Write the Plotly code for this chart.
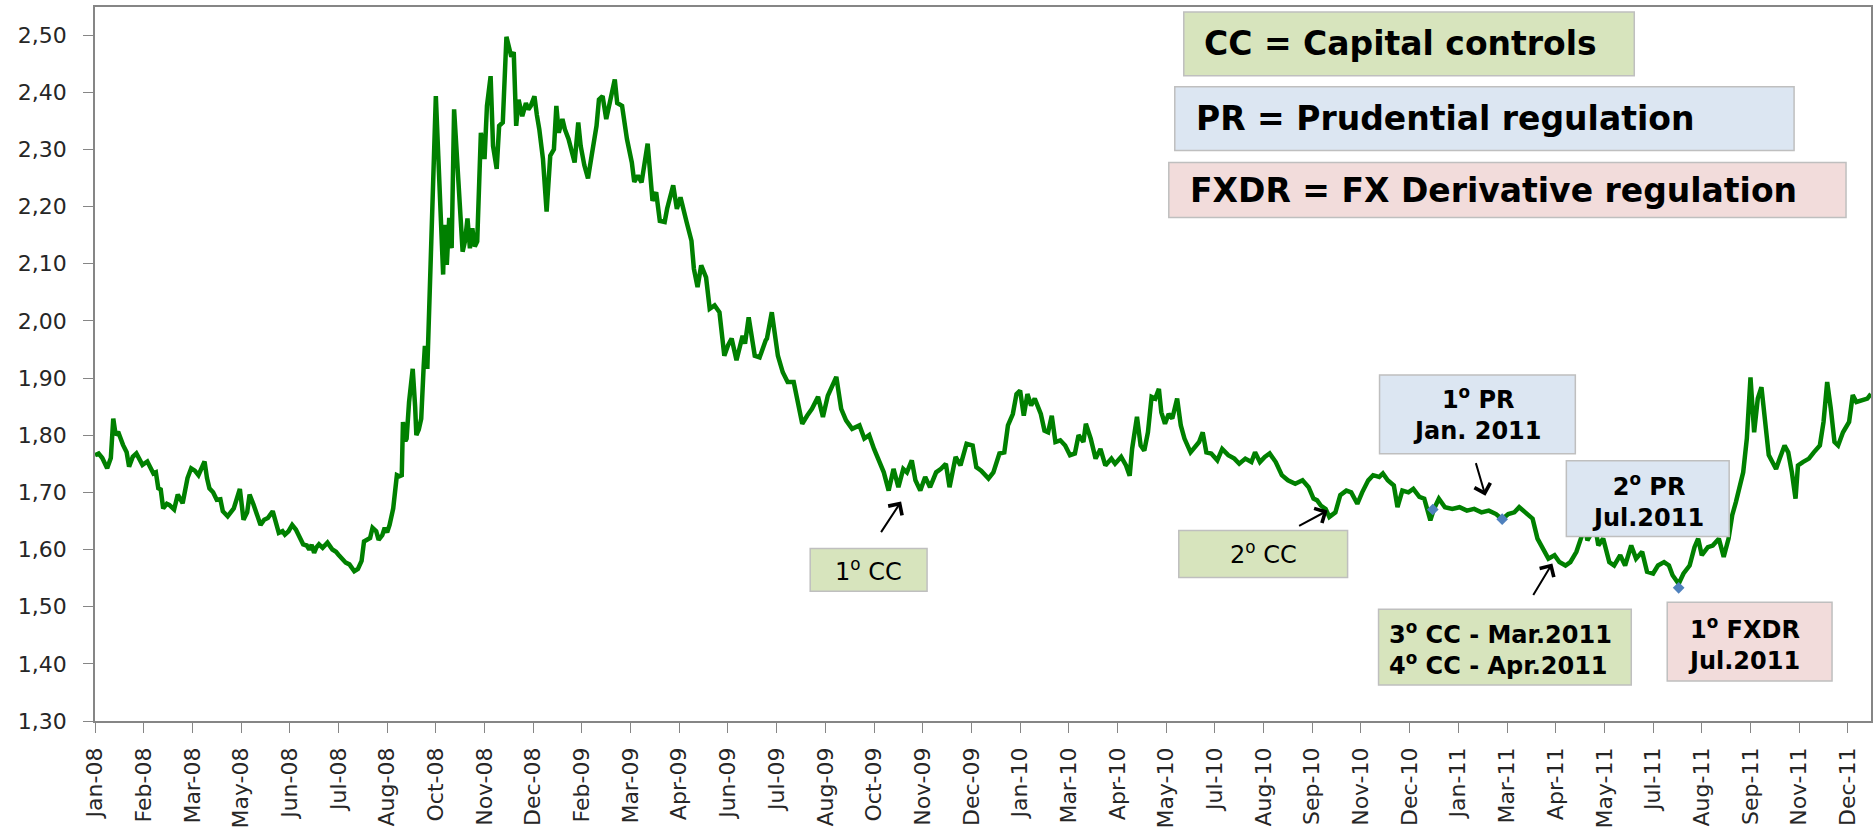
import pandas as pd
import plotly.graph_objects as go

# ---------------- data ----------------
# observation day = days after 2 Jan 2008
obs_day = [
    0, 3, 6, 10, 13, 15, 17, 19, 23, 26, 28, 31, 34, 37, 39, 43, 48, 50, 52, 54,
    56, 59, 61, 65, 68, 72, 76, 79, 82, 85, 88, 90, 92, 94, 97, 100, 103, 105, 109, 111,
    114, 119, 122, 125, 127, 130, 133, 136, 139, 142, 146, 148, 151, 154, 156, 159, 162, 165, 167, 171,
    174, 176, 178, 180, 182, 184, 187, 191, 195, 198, 200, 203, 206, 209, 213, 216, 219, 221, 224, 226,
    228, 231, 233, 236, 238, 240, 242, 245, 248, 250, 252, 253, 255, 256, 258, 261, 263, 264, 266, 268,
    270, 271, 273, 275, 277, 280, 282, 284, 286, 287, 289, 291, 293, 295, 297, 299, 302, 304, 306, 308,
    310, 312, 314, 317, 320, 322, 325, 327, 330, 332, 335, 338, 340, 342, 344, 346, 348, 351, 354, 356,
    358, 361, 363, 365, 368, 371, 374, 377, 379, 381, 384, 386, 389, 394, 397, 399, 402, 405, 408, 412,
    414, 417, 420, 423, 427, 429, 433, 437, 441, 443, 446, 449, 454, 458, 461, 464, 468, 470, 475, 478,
    481, 486, 490, 492, 495, 498, 502, 505, 509, 513, 517, 520, 523, 527, 532, 534, 537, 542, 546, 551,
    552, 556, 561, 565, 569, 574, 578, 581, 585, 589, 594, 598, 602, 606, 609, 613, 617, 622, 628, 632,
    636, 640, 645, 648, 652, 656, 660, 664, 667, 671, 674, 678, 682, 686, 691, 695, 699, 702, 707, 711,
    716, 721, 724, 728, 734, 738, 743, 747, 750, 754, 757, 760, 763, 766, 769, 772, 777, 780, 783, 786,
    789, 793, 797, 801, 805, 808, 812, 814, 818, 822, 826, 830, 835, 838, 843, 847, 850, 852, 856, 859,
    862, 865, 868, 871, 874, 876, 879, 882, 885, 889, 892, 895, 900, 904, 907, 910, 913, 917, 922, 926,
    931, 936, 940, 945, 950, 953, 957, 961, 965, 970, 975, 980, 986, 992, 995, 997, 1001, 1004, 1007, 1011,
    1014, 1016, 1019, 1023, 1028, 1032, 1037, 1041, 1046, 1050, 1055, 1058, 1062, 1067, 1070, 1074, 1079, 1083, 1088, 1092,
    1097, 1100, 1104, 1109, 1115, 1121, 1127, 1133, 1139, 1145, 1151, 1156, 1161, 1166, 1170, 1175, 1181, 1185, 1190, 1194,
    1199, 1203, 1208, 1212, 1217, 1221, 1224, 1226, 1230, 1232, 1235, 1239, 1244, 1248, 1253, 1257, 1262, 1266, 1271, 1275,
    1280, 1284, 1289, 1293, 1296, 1301, 1305, 1310, 1314, 1317, 1320, 1325, 1329, 1334, 1338, 1342, 1345, 1348, 1351, 1354,
    1357, 1360, 1363, 1366, 1369, 1372, 1375, 1378, 1381, 1384, 1388, 1391, 1394, 1397, 1399, 1403, 1408, 1412, 1417, 1420,
    1423, 1426, 1429, 1432, 1436, 1441, 1444, 1447, 1451, 1456, 1459,
]

brl_usd = [
    1.765, 1.768, 1.760, 1.742, 1.760, 1.829, 1.800, 1.806, 1.783, 1.770, 1.745, 1.762, 1.768, 1.758, 1.748, 1.754, 1.733, 1.735, 1.707, 1.705,
    1.672, 1.680, 1.678, 1.670, 1.696, 1.681, 1.725, 1.742, 1.738, 1.730, 1.745, 1.754, 1.725, 1.707, 1.700, 1.687, 1.688, 1.667, 1.658, 1.665,
    1.672, 1.706, 1.652, 1.665, 1.696, 1.680, 1.658, 1.643, 1.652, 1.655, 1.667, 1.650, 1.629, 1.632, 1.626, 1.632, 1.643, 1.635, 1.626, 1.609,
    1.607, 1.600, 1.608, 1.594, 1.604, 1.609, 1.603, 1.612, 1.600, 1.596, 1.591, 1.585, 1.577, 1.574, 1.562, 1.566, 1.580, 1.614, 1.617, 1.620,
    1.638, 1.632, 1.617, 1.625, 1.638, 1.630, 1.643, 1.672, 1.730, 1.728, 1.730, 1.823, 1.790, 1.794, 1.858, 1.916, 1.850, 1.800, 1.810, 1.829,
    1.920, 1.956, 1.916, 2.046, 2.185, 2.393, 2.289, 2.185, 2.081, 2.168, 2.098, 2.180, 2.127, 2.370, 2.300, 2.243, 2.121, 2.140, 2.179, 2.127,
    2.162, 2.130, 2.139, 2.329, 2.283, 2.376, 2.428, 2.306, 2.266, 2.341, 2.347, 2.497, 2.480, 2.462, 2.470, 2.341, 2.387, 2.358, 2.381, 2.370,
    2.376, 2.393, 2.360, 2.335, 2.283, 2.191, 2.289, 2.300, 2.376, 2.329, 2.353, 2.335, 2.318, 2.277, 2.347, 2.306, 2.272, 2.249, 2.289, 2.341,
    2.387, 2.393, 2.353, 2.387, 2.422, 2.381, 2.376, 2.318, 2.277, 2.243, 2.254, 2.242, 2.310, 2.210, 2.225, 2.175, 2.173, 2.196, 2.237, 2.196,
    2.216, 2.173, 2.140, 2.091, 2.059, 2.097, 2.076, 2.021, 2.027, 2.015, 1.939, 1.957, 1.969, 1.931, 1.974, 1.960, 2.006, 1.939, 1.936, 1.966,
    1.969, 2.015, 1.939, 1.910, 1.893, 1.893, 1.846, 1.820, 1.834, 1.846, 1.867, 1.832, 1.869, 1.887, 1.902, 1.846, 1.826, 1.811, 1.817, 1.794,
    1.800, 1.776, 1.753, 1.735, 1.703, 1.741, 1.709, 1.741, 1.735, 1.756, 1.721, 1.703, 1.727, 1.709, 1.735, 1.741, 1.750, 1.709, 1.762, 1.747,
    1.785, 1.782, 1.744, 1.738, 1.724, 1.735, 1.768, 1.770, 1.817, 1.837, 1.872, 1.878, 1.834, 1.872, 1.852, 1.864, 1.837, 1.808, 1.805, 1.834,
    1.788, 1.791, 1.782, 1.765, 1.768, 1.800, 1.788, 1.820, 1.794, 1.759, 1.776, 1.747, 1.759, 1.750, 1.762, 1.747, 1.729, 1.776, 1.832, 1.782,
    1.773, 1.805, 1.867, 1.864, 1.881, 1.840, 1.820, 1.837, 1.829, 1.864, 1.817, 1.794, 1.770, 1.782, 1.788, 1.805, 1.770, 1.768, 1.756, 1.776,
    1.765, 1.759, 1.750, 1.759, 1.753, 1.770, 1.753, 1.762, 1.768, 1.753, 1.730, 1.721, 1.715, 1.721, 1.712, 1.709, 1.689, 1.686, 1.677, 1.671,
    1.657, 1.660, 1.665, 1.695, 1.703, 1.700, 1.680, 1.700, 1.721, 1.730, 1.727, 1.733, 1.721, 1.712, 1.674, 1.703, 1.700, 1.706, 1.692, 1.689,
    1.651, 1.671, 1.689, 1.674, 1.671, 1.674, 1.668, 1.671, 1.665, 1.668, 1.662, 1.653, 1.662, 1.665, 1.674, 1.665, 1.654, 1.619, 1.601, 1.584,
    1.590, 1.578, 1.572, 1.578, 1.596, 1.625, 1.640, 1.616, 1.631, 1.645, 1.607, 1.619, 1.578, 1.572, 1.590, 1.572, 1.607, 1.584, 1.596, 1.561,
    1.558, 1.572, 1.578, 1.572, 1.555, 1.540, 1.558, 1.572, 1.604, 1.619, 1.590, 1.604, 1.607, 1.619, 1.587, 1.619, 1.660, 1.683, 1.712, 1.735,
    1.794, 1.901, 1.805, 1.864, 1.884, 1.829, 1.765, 1.753, 1.741, 1.759, 1.782, 1.770, 1.735, 1.689, 1.747, 1.753, 1.759, 1.770, 1.782, 1.823,
    1.893, 1.846, 1.788, 1.782, 1.805, 1.823, 1.870, 1.858, 1.861, 1.864, 1.872,
]

# policy-event markers (blue diamonds)
event_day = [1099, 1156, 1301]
event_rate = [1.670, 1.653, 1.533]

# x-axis tick labels (Excel category labels) and their dates
tick_dates = [
    "2008-01-02", "2008-02-11", "2008-03-22", "2008-05-01", "2008-06-10", "2008-07-20",
    "2008-08-29", "2008-10-08", "2008-11-17", "2008-12-27", "2009-02-05", "2009-03-17",
    "2009-04-26", "2009-06-05", "2009-07-15", "2009-08-24", "2009-10-03", "2009-11-12",
    "2009-12-22", "2010-01-31", "2010-03-12", "2010-04-21", "2010-05-31", "2010-07-10",
    "2010-08-19", "2010-09-28", "2010-11-07", "2010-12-17", "2011-01-26", "2011-03-07",
    "2011-04-16", "2011-05-26", "2011-07-05", "2011-08-14", "2011-09-23", "2011-11-02",
    "2011-12-12",
]
tick_labels = [
    "Jan-08", "Feb-08", "Mar-08", "May-08", "Jun-08", "Jul-08", "Aug-08", "Oct-08", "Nov-08",
    "Dec-08", "Feb-09", "Mar-09", "Apr-09", "Jun-09", "Jul-09", "Aug-09", "Oct-09", "Nov-09",
    "Dec-09", "Jan-10", "Mar-10", "Apr-10", "May-10", "Jul-10", "Aug-10", "Sep-10", "Nov-10",
    "Dec-10", "Jan-11", "Mar-11", "Apr-11", "May-11", "Jul-11", "Aug-11", "Sep-11", "Nov-11",
    "Dec-11",
]
y_ticks = [1.30, 1.40, 1.50, 1.60, 1.70, 1.80, 1.90, 2.00, 2.10, 2.20, 2.30, 2.40, 2.50]

start = pd.Timestamp("2008-01-02")
dates = start + pd.to_timedelta(obs_day, unit="D")
event_dates = start + pd.to_timedelta(event_day, unit="D")

# ---------------- layout helpers ----------------
W, H = 1874, 830
L, R, T, B = 95, 1873, 7, 723


def px(x):
    return (x - L) / (R - L)


def py(y):
    return (B - y) / (B - T)


FONT = "DejaVu Sans"
GREEN_BOX = "#D7E4BD"
BLUE_BOX = "#DCE6F2"
PINK_BOX = "#F2DCDB"
BOX_LINE = "#BFBFBF"

fig = go.Figure()
fig.add_trace(go.Scatter(x=dates, y=brl_usd, mode="lines",
                         line=dict(color="#008000", width=4.5), hoverinfo="x+y",
                         showlegend=False))
fig.add_trace(go.Scatter(x=event_dates, y=event_rate, mode="markers",
                         marker=dict(symbol="diamond", color="#4F81BD", size=9),
                         showlegend=False))

# boxes: (x0, y0, x1, y1, fill)
boxes = [
    (1185, 12, 1636, 76, GREEN_BOX),
    (1176, 87, 1796, 151, BLUE_BOX),
    (1170, 163, 1848, 218, PINK_BOX),
    (811, 550, 928, 593, GREEN_BOX),
    (1180, 532, 1349, 579, GREEN_BOX),
    (1381, 376, 1577, 455, BLUE_BOX),
    (1568, 462, 1731, 538, BLUE_BOX),
    (1380, 611, 1633, 687, GREEN_BOX),
    (1669, 604, 1834, 683, PINK_BOX),
]
shapes = []
for x0, y0, x1, y1, fc in boxes:
    shapes.append(dict(type="rect", xref="paper", yref="paper", layer="above",
                       x0=px(x0), x1=px(x1), y0=py(y1), y1=py(y0),
                       fillcolor=fc, line=dict(color=BOX_LINE, width=1.5)))

sup = "<sup>o</sup>"
texts = [
    # (text, x, y, xanchor, align, size, bold)
    ("CC = Capital controls", 1203, 44, "left", "left", 33, True),
    ("PR = Prudential regulation", 1195, 119, "left", "left", 33, True),
    ("FXDR = FX Derivative regulation", 1189, 191, "left", "left", 33, True),
    (f"1{sup} CC", 869, 572, "center", "center", 24, False),
    (f"2{sup} CC", 1265, 555, "center", "center", 24, False),
    (f"1{sup} PR<br>Jan. 2011", 1479, 415, "center", "center", 24, True),
    (f"2{sup} PR<br>Jul.2011", 1650, 502, "center", "center", 24, True),
    (f"3{sup} CC - Mar.2011<br>4{sup} CC - Apr.2011", 1388, 650, "left", "left", 24, True),
    (f"1{sup} FXDR<br>Jul.2011", 1688, 645, "left", "left", 24, True),
]
annotations = []
for t, x, y, xa, al, sz, bold in texts:
    annotations.append(dict(text=f"<b>{t}</b>" if bold else t, xref="paper", yref="paper",
                            x=px(x), y=py(y), xanchor=xa, yanchor="middle", align=al,
                            showarrow=False,
                            font=dict(family=FONT, size=sz, color="#000000")))

# arrows: (tail_x, tail_y, head_x, head_y)
arrows = [
    (881, 535, 902, 503),
    (1299, 528, 1329, 512),
    (1477, 463, 1487, 497),
    (1534, 598, 1554, 565),
]
for tx, ty, hx, hy in arrows:
    annotations.append(dict(text="", xref="paper", yref="paper", x=px(hx), y=py(hy),
                            ax=tx - hx, ay=ty - hy, axref="pixel", ayref="pixel",
                            showarrow=True, arrowhead=4, arrowsize=1.6, arrowwidth=2,
                            arrowcolor="#000000"))

fig.update_layout(
    width=W, height=H,
    margin=dict(l=L, r=W - R, t=T, b=H - B),
    paper_bgcolor="white", plot_bgcolor="white",
    separators=",.",
    showlegend=False,
    shapes=shapes,
    annotations=annotations,
    font=dict(family=FONT, color="#262626"),
)
fig.update_xaxes(
    type="date", range=["2008-01-02", "2011-12-31"],
    tickmode="array", tickvals=tick_dates, ticktext=tick_labels,
    tickangle=-90, tickfont=dict(family=FONT, size=22, color="#262626"),
    ticks="outside", ticklen=10, tickcolor="#868686", tickwidth=1,
    ticklabelstandoff=6,
    showline=True, linecolor="#868686", linewidth=1.5, mirror=True,
    showgrid=False, zeroline=False,
)
fig.update_yaxes(
    range=[1.30, 2.549], tickmode="array", tickvals=y_ticks, tickformat=".2f",
    tickfont=dict(family=FONT, size=22, color="#262626"),
    ticks="outside", ticklen=10, tickcolor="#868686", tickwidth=1,
    ticklabelstandoff=12,
    showline=True, linecolor="#868686", linewidth=1.5, mirror=True,
    showgrid=False, zeroline=False,
)

fig.write_html("out.html", config={"displayModeBar": False},
               post_script="document.body.style.margin='0';document.body.style.overflow='hidden';")
